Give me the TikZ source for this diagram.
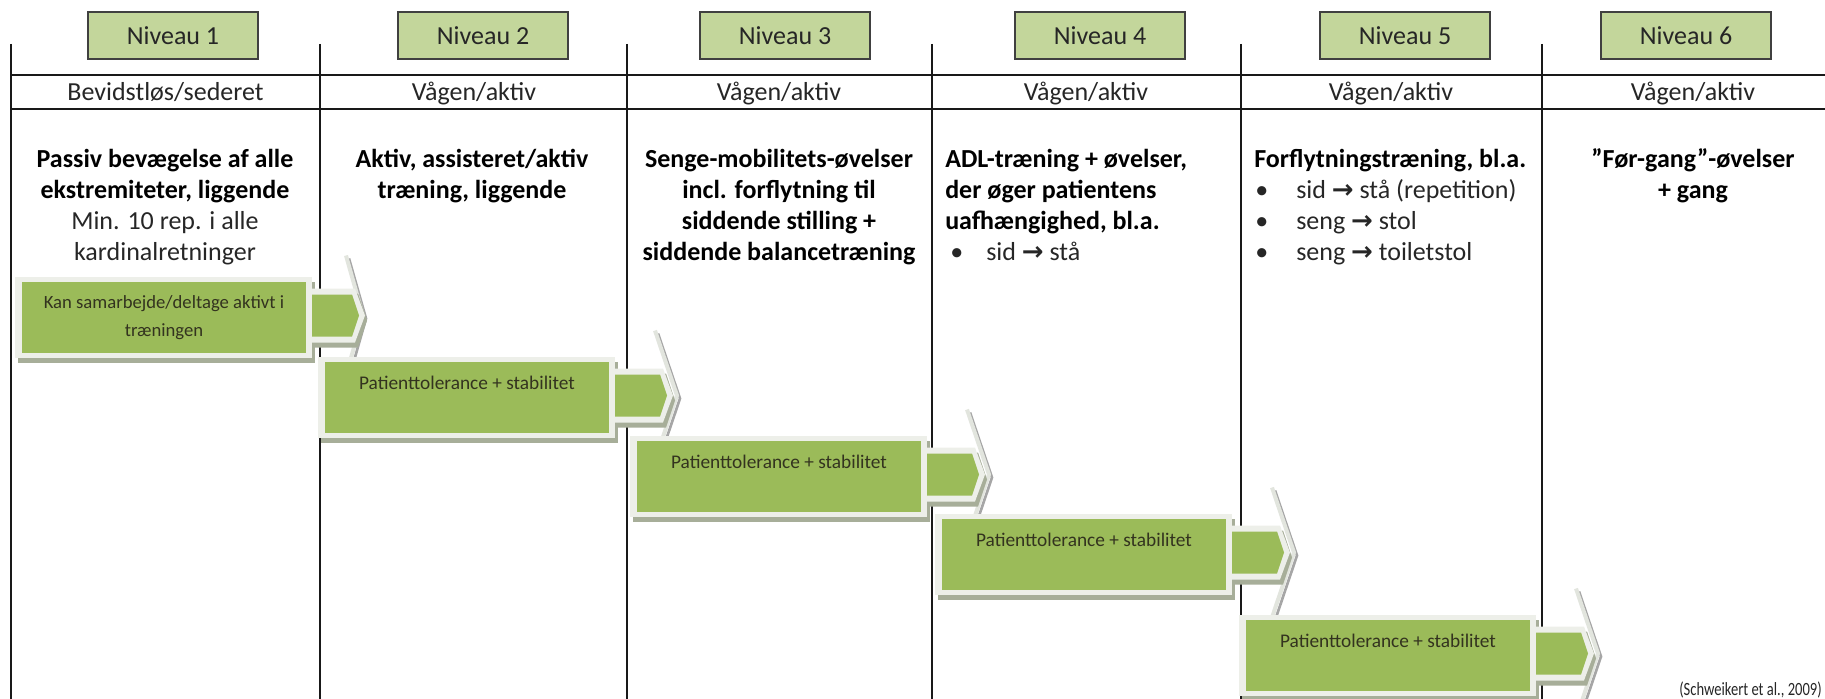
\documentclass[tikz,border=0pt]{standalone}
\usepackage{fontspec}
\usepackage{graphicx}
\setmainfont{Carlito}
\newfontfamily\dejavu{DejaVu Sans}
\definecolor{niv}{HTML}{C3D69B}
\definecolor{grn}{HTML}{9BBB59}
\definecolor{glow}{HTML}{EDEFE9}
\definecolor{shad}{HTML}{A7AE99}
\definecolor{headedge}{HTML}{E2E5DE}
\definecolor{txt}{HTML}{262626}
\definecolor{btxt}{HTML}{33331F}
\tikzset{
 gridline/.style={line width=1.7pt, draw=black!90},
 nivbox/.style={draw=black!75, line width=1.3pt, fill=niv, minimum width=127.5pt, minimum height=35.25pt, inner sep=0pt, font=\fontsize{19.5}{23}\selectfont, text=txt},
 hdr/.style={anchor=base, inner sep=0pt, font=\fontsize{19.5}{23}\selectfont, text=txt},
 ttl/.style={anchor=base, inner sep=0pt, font=\fontsize{19.5}{23}\selectfont\bfseries, text=black},
 ttlw/.style={ttl, anchor=base west},
 reg/.style={anchor=base, inner sep=0pt, font=\fontsize{19.5}{23}\selectfont, text=txt},
 regw/.style={reg, anchor=base west},
 boxtxt/.style={inner sep=0pt, font=\fontsize{14.5}{21.5}\selectfont, text=btxt},
}
\newcommand{\arr}{{\dejavu\bfseries →}}
% #1 name, #2 left, #3 top, #4 text, #5 shaft end, #6 head back, #7 head tip, #8 head half height
\newcommand{\mystage}[8]{%
 \pgfmathsetmacro{\R}{#2+284}%
 \pgfmathsetmacro{\B}{#3+71}%
 \pgfmathsetmacro{\M}{#3+33.5}%
 \pgfmathsetmacro{\SE}{\R+#5}%
 \pgfmathsetmacro{\PB}{\R+#6}%
 \pgfmathsetmacro{\PT}{\R+#7}%
 \pgfmathsetmacro{\HH}{#8}%
 % pale arrow head
 \draw[black!35, line width=2pt, line join=round] (\PB+3,\M-\HH+3) -- (\PT+3,\M+3) -- (\PB+3,\M+\HH+3);
 \fill[white] (\PB,\M-\HH) -- (\PT,\M) -- (\PB,\M+\HH) -- cycle;
 \draw[headedge, line width=3pt, line join=round] (\PB,\M-\HH) -- (\PT,\M) -- (\PB,\M+\HH);
 % shadows
 \fill[shad] (#2-4,#3) rectangle (\R+9,\B+10);
 \fill[shad] (\R+3,\M-22) -- (\SE+6,\M-22) -- (\SE+15,\M+5) -- (\SE+6,\M+32) -- (\R+3,\M+32) -- cycle;
 % glows
 \fill[glow] (#2-7,#3-5) rectangle (\R+6,\B+5);
 \fill[glow] (\R,\M-27) -- (\SE+3,\M-27) -- (\SE+13,\M) -- (\SE+3,\M+27) -- (\R,\M+27) -- cycle;
 % green parts
 \fill[grn] (#2,#3) rectangle (\R,\B);
 \fill[grn] (\R+6,\M-21) -- (\SE,\M-21) -- (\SE+7,\M) -- (\SE,\M+21) -- (\R+6,\M+21) -- cycle;
 \node[boxtxt, anchor=base] (#1) at (#2+142,#3+27) {#4};
}
\begin{document}
\begin{tikzpicture}[x=0.75pt,y=-0.75pt]
\useasboundingbox (0,0) rectangle (1825,699);
% grid
\foreach \xx in {11,320,627,932,1241,1542} \draw[gridline] (\xx,44) -- (\xx,699);
\draw[gridline] (11,75) -- (1825,75);
\draw[gridline] (11,109) -- (1825,109);
% level boxes
\node[nivbox] (n1) at (173,35.5) {Niveau 1};
\node[nivbox] (n2) at (483,35.5) {Niveau 2};
\node[nivbox] (n3) at (785,35.5) {Niveau 3};
\node[nivbox] (n4) at (1100,35.5) {Niveau 4};
\node[nivbox] (n5) at (1405,35.5) {Niveau 5};
\node[nivbox] (n6) at (1686,35.5) {Niveau 6};
% header row
\node[hdr] (h1) at (165.5,100) {Bevidstløs/sederet};
\node[hdr] (h2) at (474,100) {Vågen/aktiv};
\node[hdr] (h3) at (779,100) {Vågen/aktiv};
\node[hdr] (h4) at (1086,100) {Vågen/aktiv};
\node[hdr] (h5) at (1391,100) {Vågen/aktiv};
\node[hdr] (h6) at (1693,100) {Vågen/aktiv};
% column 1
\node[ttl] (c1a) at (165,167) {Passiv bevægelse af alle};
\node[ttl] (c1b) at (165,198) {ekstremiteter, liggende};
\node[reg] (c1c) at (165,229) {Min. 10 rep. i alle};
\node[reg] (c1d) at (165,260) {kardinalretninger};
% column 2
\node[ttl] (c2a) at (472,167) {Aktiv, assisteret/aktiv};
\node[ttl] (c2b) at (472,198) {træning, liggende};
% column 3
\node[ttl] (c3a) at (779,167) {Senge-mobilitets-øvelser};
\node[ttl] (c3b) at (779,198) {incl. forflytning til};
\node[ttl] (c3c) at (779,229) {siddende stilling +};
\node[ttl] (c3d) at (779,260) {siddende balancetræning};
% column 4
\node[ttlw] (c4a) at (945,167) {ADL-træning + øvelser,};
\node[ttlw] (c4b) at (945,198) {der øger patientens};
\node[ttlw] (c4c) at (945,229) {uafhængighed, bl.a.};
\node[regw] (c4d) at (950,260) {•};
\node[regw] (c4e) at (986,260) {sid \arr{} stå};
% column 5
\node[ttlw] (c5a) at (1254,167) {Forflytningstræning, bl.a.};
\node[regw] (c5b) at (1255,198) {•};
\node[regw] (c5c) at (1296,198) {sid \arr{} stå (repetition)};
\node[regw] (c5d) at (1255,229) {•};
\node[regw] (c5e) at (1296,229) {seng \arr{} stol};
\node[regw] (c5f) at (1255,260) {•};
\node[regw] (c5g) at (1296,260) {seng \arr{} toiletstol};
% column 6
\node[ttl] (c6a) at (1693,167) {”Før-gang”-øvelser};
\node[ttl] (c6b) at (1693,198) {+ gang};
% stages
\mystage{s1}{22}{282}{}{46}{40}{57}{60}
\node[inner sep=0pt, font=\fontsize{14}{21.5}\selectfont, text=btxt, align=center, anchor=center] (s1t) at (164,317.5) {Kan samarbejde/deltage aktivt i\\træningen};
\mystage{s2}{325}{362}{Patienttolerance + stabilitet}{51}{46}{68}{65}
\mystage{s3}{637}{441}{Patienttolerance + stabilitet}{51}{46}{68}{65}
\mystage{s4}{942}{519}{Patienttolerance + stabilitet}{51}{46}{68}{65}
\mystage{s5}{1246}{620}{Patienttolerance + stabilitet}{51}{46}{68}{65}
% citation
\node[anchor=base east, inner sep=0pt, font=\fontsize{14}{16}\selectfont, text=txt] (cite) at (1822,695) {\scalebox{0.78}[1]{(Schweikert et al., 2009)}};
\end{tikzpicture}
\end{document}
